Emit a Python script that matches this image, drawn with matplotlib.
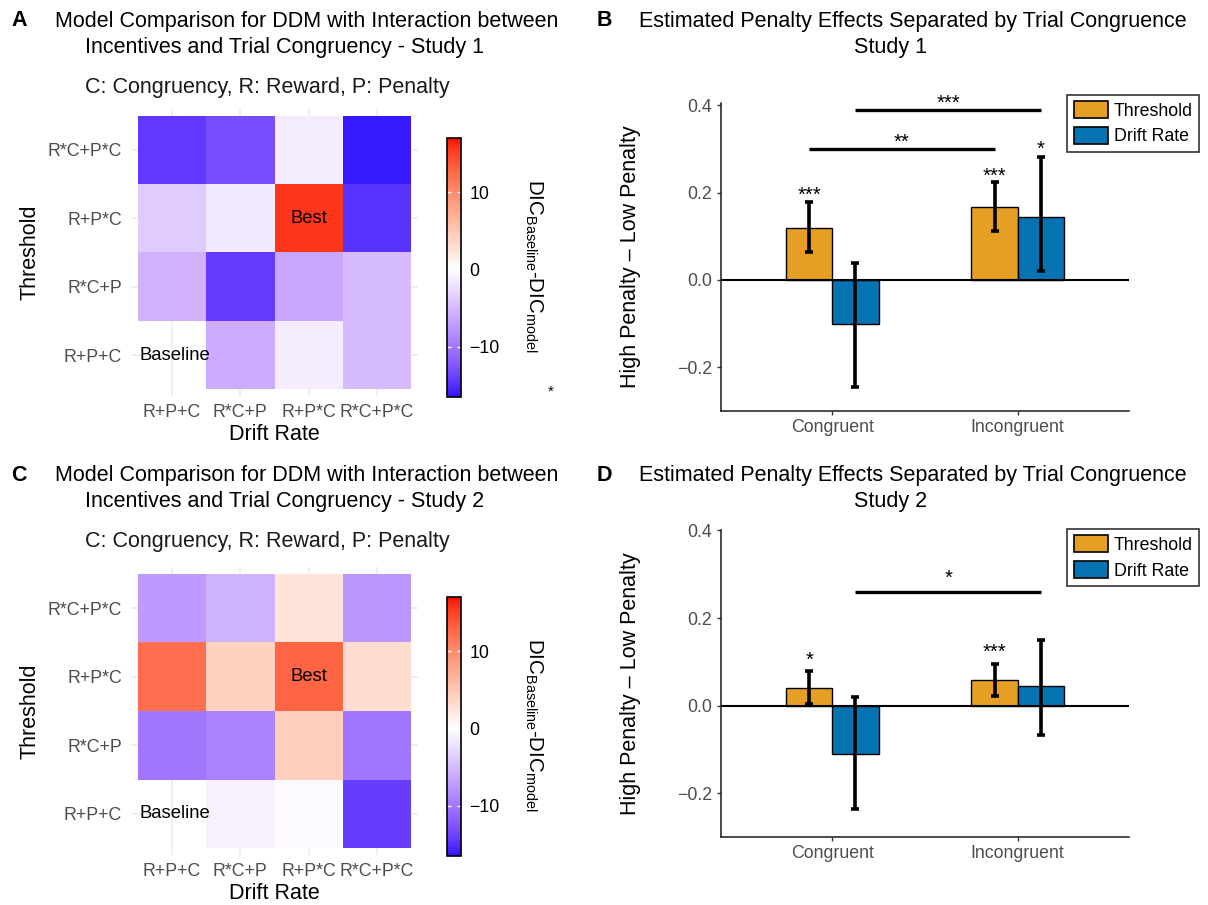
import numpy as np
import matplotlib
matplotlib.use("Agg")
import matplotlib.pyplot as plt
import matplotlib.colors as mcolors
from matplotlib.patches import Patch

plt.rcParams['font.family'] = ['Liberation Sans', 'DejaVu Sans']
plt.rcParams['mathtext.default'] = 'regular'

# ---- data ----
model_labels = ['R+P+C', 'R*C+P', 'R+P*C', 'R*C+P*C']   # drift (x) and threshold (y, bottom -> top)

# DIC_baseline - DIC_model, rows = threshold model (bottom -> top), cols = drift model
dic_study1 = [[np.nan, -6.0, -1.3, -4.9],
              [-5.7, -14.3, -6.5, -4.9],
              [-3.8, -1.5, 15.6, -14.8],
              [-14.4, -13.1, -1.2, -16.1]]
dic_study2 = [[np.nan, -1.0, -0.3, -14.2],
              [-10.0, -9.1, 4.3, -10.0],
              [12.1, 4.0, 12.9, 3.0],
              [-7.4, -5.5, 2.5, -7.6]]

conditions = ['Congruent', 'Incongruent']
s1_threshold = [0.119, 0.166]
s1_threshold_lo = [0.063, 0.113]
s1_threshold_hi = [0.178, 0.224]
s1_drift = [-0.101, 0.145]
s1_drift_lo = [-0.244, 0.021]
s1_drift_hi = [0.038, 0.281]

s2_threshold = [0.041, 0.059]
s2_threshold_lo = [0.004, 0.023]
s2_threshold_hi = [0.080, 0.095]
s2_drift = [-0.110, 0.044]
s2_drift_lo = [-0.236, -0.066]
s2_drift_hi = [0.019, 0.150]

# significance stars: (series, condition index, label, y)
s1_stars = [('Threshold', 0, '***', 0.206), ('Threshold', 1, '***', 0.250), ('Drift Rate', 1, '*', 0.313)]
s2_stars = [('Threshold', 0, '*', 0.116), ('Threshold', 1, '***', 0.134)]
# brackets between conditions: (series, y, label, label y)
s1_brackets = [('Threshold', 0.300, '**', 0.328), ('Drift Rate', 0.388, '***', 0.418)]
s2_brackets = [('Drift Rate', 0.259, '*', 0.304)]

W, H = 1208, 905
fig = plt.figure(figsize=(W / 100, H / 100), dpi=100)


def px_axes(l, t, r, b):
    return fig.add_axes([l / W, 1 - b / H, (r - l) / W, (b - t) / H])


def ftext(x, y, s, **kw):
    fig.text(x / W, 1 - y / H, s, **kw)


# blue-white-red gradient interpolated in Lab space (like ggplot's gradient2)
def to_lab(c):
    rgb = np.array(mcolors.to_rgb(c))
    lin = np.where(rgb <= 0.04045, rgb / 12.92, ((rgb + 0.055) / 1.055) ** 2.4)
    M = np.array([[0.4124, 0.3576, 0.1805], [0.2126, 0.7152, 0.0722], [0.0193, 0.1192, 0.9505]])
    xyz = M @ lin / np.array([0.95047, 1.0, 1.08883])
    f = np.where(xyz > 0.008856, np.cbrt(xyz), 7.787 * xyz + 16 / 116)
    return np.array([116 * f[1] - 16, 500 * (f[0] - f[1]), 200 * (f[1] - f[2])])


def from_lab(lab):
    fy = (lab[0] + 16) / 116
    fx = fy + lab[1] / 500
    fz = fy - lab[2] / 200
    f = np.array([fx, fy, fz])
    xyz = np.where(f ** 3 > 0.008856, f ** 3, (f - 16 / 116) / 7.787) * np.array([0.95047, 1.0, 1.08883])
    Minv = np.array([[3.2406, -1.5372, -0.4986], [-0.9689, 1.8758, 0.0415], [0.0557, -0.2040, 1.0570]])
    lin = Minv @ xyz
    rgb = np.where(lin <= 0.0031308, 12.92 * lin, 1.055 * np.clip(lin, 0, None) ** (1 / 2.4) - 0.055)
    return np.clip(rgb, 0, 1)


lab_lo, lab_mid, lab_hi = to_lab('blue'), to_lab('white'), to_lab('red')
cols = []
for t in np.linspace(-1, 1, 256):
    if t < 0:
        cols.append(from_lab(lab_mid + (-t) * (lab_lo - lab_mid)))
    else:
        cols.append(from_lab(lab_mid + t * (lab_hi - lab_mid)))
cmap = mcolors.ListedColormap(cols)
cmap.set_bad((1, 1, 1, 0))
norm = mcolors.Normalize(-17, 17)


def heatmap(panel_box, cbar_box, data, top, letter, study, star=False):
    ax = px_axes(*panel_box)
    arr = np.ma.masked_invalid(np.array(data))
    edges = np.arange(0.5, 5.5)
    mesh = ax.pcolormesh(edges, edges, arr, cmap=cmap, norm=norm, zorder=2)
    ax.set_xlim(0.4, 4.6)
    ax.set_ylim(0.4, 4.6)
    ax.set_xticks(range(1, 5))
    ax.set_yticks(range(1, 5))
    ax.set_xticklabels(model_labels)
    ax.set_yticklabels(model_labels)
    ax.grid(color='#EBEBEB', lw=1.1, zorder=0)
    ax.set_axisbelow(True)
    for s in ax.spines.values():
        s.set_visible(False)
    ax.tick_params(length=0, labelsize=12.8, labelcolor='#4D4D4D')
    ax.tick_params(axis='x', pad=6)
    ax.tick_params(axis='y', pad=6.5)
    ax.set_xlabel('Drift Rate', fontsize=15.5)
    ax.set_ylabel('Threshold', fontsize=15.5)
    ax.xaxis.set_label_coords(0.5, -0.097)
    ax.yaxis.set_label_coords(-0.314, 0.5)
    ax.text(0.53, 1, 'Baseline', fontsize=13.3, ha='left', va='center', zorder=3)
    ax.text(3, 3, 'Best', fontsize=13.3, ha='center', va='center', zorder=3)

    cax = px_axes(*cbar_box)
    cb = fig.colorbar(mesh, cax=cax, boundaries=np.linspace(-16.5, 17, 300))
    cb.set_ticks([-10, 0, 10])
    cb.set_ticklabels(['\u221210', '0', '10'])
    cb.outline.set_linewidth(1.2)
    cb.outline.set_edgecolor('black')
    cax.tick_params(axis='y', direction='in', color='white', length=3, width=1,
                    left=True, right=True, labelsize=12.8, pad=6)
    ftext(534, (cbar_box[1] + cbar_box[3]) / 2 - 2, 'DIC$_{Baseline}$-DIC$_{model}$',
          fontsize=14.8, rotation=-90, ha='center', va='center')
    if star:
        ftext(551, 392, '*', fontsize=11, ha='center', va='center')

    ftext(11, top, letter, fontsize=15.5, fontweight='bold', va='center')
    ftext(55, top, 'Model Comparison for DDM with Interaction between', fontsize=15.5, va='center')
    ftext(85, top + 27, 'Incentives and Trial Congruency - Study %d' % study, fontsize=15.5, va='center')
    ftext(85, top + 67, 'C: Congruency, R: Reward, P: Penalty', fontsize=15.5, va='center', color='#1A1A1A')


def barplot(box, top, letter, study, thr, thr_lo, thr_hi, dr, dr_lo, dr_hi, stars, brackets, ylim_top, leg_top):
    ax = px_axes(*box)
    x = np.arange(1, len(conditions) + 1)
    w = 0.25
    offs = {'Threshold': -w / 2, 'Drift Rate': w / 2}
    colors = {'Threshold': '#E69F25', 'Drift Rate': '#0673B3'}
    series = [('Threshold', thr, thr_lo, thr_hi), ('Drift Rate', dr, dr_lo, dr_hi)]
    for name, vals, lo, hi in series:
        vals = np.array(vals)
        ax.bar(x + offs[name], vals, width=w, color=colors[name], edgecolor='black', lw=1.0, zorder=2)
        err = np.array([vals - np.array(lo), np.array(hi) - vals])
        ax.errorbar(x + offs[name], vals, yerr=err, fmt='none', ecolor='black',
                    elinewidth=2.6, capsize=3, capthick=2.6, zorder=4)
    ax.axhline(0, color='black', lw=1.5, zorder=3)
    star_off = 0.026
    for name, i, lab, y in stars:
        ax.text(x[i] + offs[name], y - star_off, lab, fontsize=14.5, ha='center', va='baseline')
    for name, y, lab, ly in brackets:
        x0, x1 = x[0] + offs[name], x[1] + offs[name]
        ax.plot([x0, x1], [y, y], color='black', lw=2.4, solid_capstyle='butt', clip_on=False)
        ax.text((x0 + x1) / 2, ly - star_off, lab, fontsize=14.5, ha='center', va='baseline', clip_on=False)
    ax.set_xlim(0.4, 2.6)
    ax.set_ylim(-0.3, ylim_top)
    ax.set_xticks(x)
    ax.set_xticklabels(conditions)
    ax.set_yticks([-0.2, 0.0, 0.2, 0.4])
    ax.set_yticklabels(['\u22120.2', '0.0', '0.2', '0.4'])
    for s in ['top', 'right']:
        ax.spines[s].set_visible(False)
    for s in ['left', 'bottom']:
        ax.spines[s].set_linewidth(1.1)
        ax.spines[s].set_color('#1A1A1A')
    ax.tick_params(length=3, width=1.0, color='#333333', labelsize=12.8, labelcolor='#4D4D4D')
    ax.tick_params(axis='x', pad=3)
    ax.tick_params(axis='y', pad=3.5)
    ax.set_ylabel('High Penalty \u2013 Low Penalty', fontsize=15.5)
    ax.yaxis.set_label_coords(-0.196, 0.5)

    handles = [Patch(facecolor=colors[n], edgecolor='black', lw=1.2, label=n) for n in ['Threshold', 'Drift Rate']]
    leg = ax.legend(handles=handles, loc='upper right', bbox_to_anchor=(1.171, leg_top),
                    fontsize=12.8, frameon=True, fancybox=False, borderpad=0.35,
                    handlelength=1.95, handleheight=1.1, handletextpad=0.3,
                    labelspacing=0.4, borderaxespad=0)
    leg.get_frame().set_edgecolor('black')
    leg.get_frame().set_linewidth(1.2)

    ftext(597, top, letter, fontsize=15.5, fontweight='bold', va='center')
    ftext(913, top, 'Estimated Penalty Effects Separated by Trial Congruence', fontsize=15.5, ha='center', va='center')
    ftext(891, top + 26, 'Study %d' % study, fontsize=15.5, ha='center', va='center')


heatmap((131, 109, 418, 396), (447, 138, 461, 397), dic_study1, 21, 'A', 1, star=True)
heatmap((131, 567, 418, 855), (447, 597, 461, 856), dic_study2, 475, 'C', 2)

barplot((721, 103, 1129, 411), 21, 'B', 1, s1_threshold, s1_threshold_lo, s1_threshold_hi,
        s1_drift, s1_drift_lo, s1_drift_hi, s1_stars, s1_brackets, 0.405, 1.026)
barplot((721, 530, 1129, 837), 475, 'D', 2, s2_threshold, s2_threshold_lo, s2_threshold_hi,
        s2_drift, s2_drift_lo, s2_drift_hi, s2_stars, s2_brackets, 0.401, 1.003)

fig.savefig('out.png', dpi=100)
